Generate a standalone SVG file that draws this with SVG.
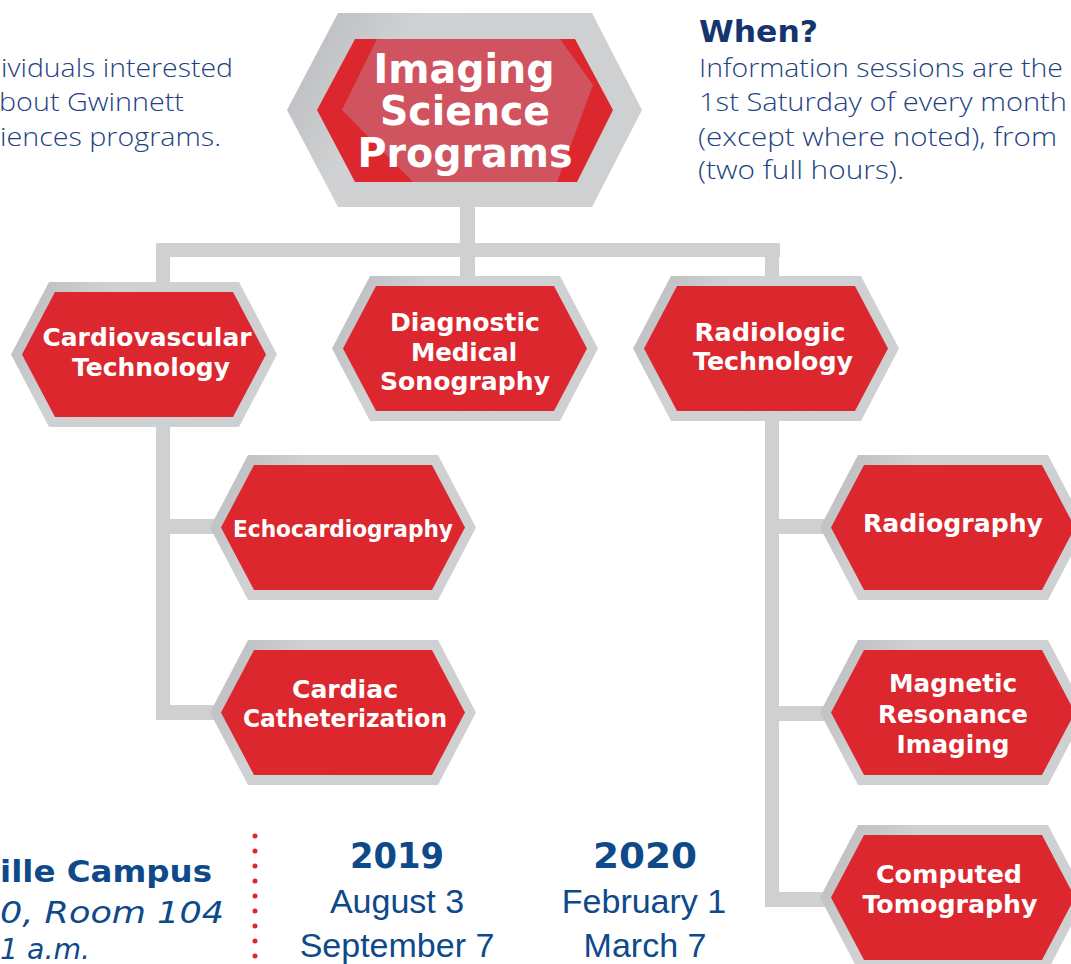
<svg xmlns="http://www.w3.org/2000/svg" width="1071" height="964" viewBox="0 0 1071 964">
<style>
.nt{font-family:"DejaVu Sans","Liberation Sans",sans-serif;font-weight:700;fill:#ffffff;text-anchor:middle}
.body{font-family:"Open Sans","Liberation Sans",sans-serif;font-weight:300;fill:#1e4380;font-size:25px}
.navy{fill:#0e4a8a}
.conn{fill:#cfd0d2}
.red{fill:#dc272e}
.date{font-family:"Liberation Sans",Arial,sans-serif;font-size:34px}
</style>
<defs>
<linearGradient id="gg" x1="0" y1="0" x2="1" y2="0.3">
<stop offset="0" stop-color="#b8b9bc"/>
<stop offset="0.35" stop-color="#d0d1d3"/>
<stop offset="1" stop-color="#cfd0d2"/>
</linearGradient>
<g id="hex">
<polygon points="38,0 228,0 266,72.5 228,145 38,145 0,72.5" fill="url(#gg)"/>
<polygon class="red" points="44,10 222,10 255,72.5 222,135 44,135 11,72.5"/>
</g>
</defs>
<rect width="1071" height="964" fill="#ffffff"/>

<g id="connectors">
<rect class="conn" x="460" y="200" width="15" height="80"/>
<rect class="conn" x="156" y="243" width="624" height="14"/>
<rect class="conn" x="156" y="243" width="14" height="477"/>
<rect class="conn" x="156" y="519" width="60" height="15"/>
<rect class="conn" x="156" y="705" width="60" height="15"/>
<rect class="conn" x="765" y="243" width="14" height="664"/>
<rect class="conn" x="765" y="519" width="60" height="15"/>
<rect class="conn" x="765" y="706" width="60" height="15"/>
<rect class="conn" x="765" y="892" width="60" height="15"/>
</g>

<g id="node-imaging">
<polygon points="338,13 592,13 642,110 592,207 338,207 287,110" fill="url(#gg)"/>
<polygon class="red" points="355,39 575,39 613,110 577,182 355,182 317,110"/>
<polygon points="377,39 560,39 593,85 557,182 413,182 342,110" fill="#d0545f"/>
<text class="nt" font-size="40" x="464" y="83" textLength="181" lengthAdjust="spacingAndGlyphs">Imaging</text>
<text class="nt" font-size="40" x="465" y="125" textLength="170" lengthAdjust="spacingAndGlyphs">Science</text>
<text class="nt" font-size="40" x="465" y="167" textLength="215" lengthAdjust="spacingAndGlyphs">Programs</text>
</g>

<g id="node-cardiovascular">
<use href="#hex" x="11" y="282"/>
<text class="nt" font-size="24" x="147" y="346" textLength="209" lengthAdjust="spacingAndGlyphs">Cardiovascular</text>
<text class="nt" font-size="24" x="151" y="376" textLength="158" lengthAdjust="spacingAndGlyphs">Technology</text>
</g>

<g id="node-sonography">
<use href="#hex" x="332" y="276"/>
<text class="nt" font-size="24" x="465" y="331" textLength="150" lengthAdjust="spacingAndGlyphs">Diagnostic</text>
<text class="nt" font-size="24" x="464" y="361" textLength="106" lengthAdjust="spacingAndGlyphs">Medical</text>
<text class="nt" font-size="24" x="465" y="390" textLength="170" lengthAdjust="spacingAndGlyphs">Sonography</text>
</g>

<g id="node-radiologic">
<use href="#hex" x="633" y="276"/>
<text class="nt" font-size="24" x="770" y="341" textLength="151" lengthAdjust="spacingAndGlyphs">Radiologic</text>
<text class="nt" font-size="24" x="773" y="370" textLength="160" lengthAdjust="spacingAndGlyphs">Technology</text>
</g>

<g id="node-echo">
<use href="#hex" x="210" y="455"/>
<text class="nt" font-size="23" x="343" y="537" textLength="220" lengthAdjust="spacingAndGlyphs">Echocardiography</text>
</g>

<g id="node-cath">
<use href="#hex" x="210" y="640"/>
<text class="nt" font-size="24" x="345" y="698" textLength="106" lengthAdjust="spacingAndGlyphs">Cardiac</text>
<text class="nt" font-size="24" x="345" y="727" textLength="204" lengthAdjust="spacingAndGlyphs">Catheterization</text>
</g>

<g id="node-radiography">
<use href="#hex" x="820" y="455"/>
<text class="nt" font-size="24" x="953" y="532" textLength="180" lengthAdjust="spacingAndGlyphs">Radiography</text>
</g>

<g id="node-mri">
<use href="#hex" x="820" y="640"/>
<text class="nt" font-size="24" x="953" y="692" textLength="128" lengthAdjust="spacingAndGlyphs">Magnetic</text>
<text class="nt" font-size="24" x="953" y="723" textLength="150" lengthAdjust="spacingAndGlyphs">Resonance</text>
<text class="nt" font-size="24" x="953" y="753" textLength="113" lengthAdjust="spacingAndGlyphs">Imaging</text>
</g>

<g id="node-ct">
<use href="#hex" x="820" y="825"/>
<text class="nt" font-size="24" x="949" y="883" textLength="146" lengthAdjust="spacingAndGlyphs">Computed</text>
<text class="nt" font-size="24" x="950" y="913" textLength="175" lengthAdjust="spacingAndGlyphs">Tomography</text>
</g>

<g id="intro-text">
<text class="body" x="1" y="77" textLength="232" lengthAdjust="spacingAndGlyphs">ividuals interested</text>
<text class="body" x="-1" y="111" textLength="185" lengthAdjust="spacingAndGlyphs">bout Gwinnett</text>
<text class="body" x="0" y="146" textLength="221" lengthAdjust="spacingAndGlyphs">iences programs.</text>
</g>

<g id="when-text">
<text x="699" y="42" font-family="DejaVu Sans, Liberation Sans, sans-serif" font-weight="700" font-size="30" fill="#15356e" textLength="119" lengthAdjust="spacingAndGlyphs">When?</text>
<text class="body" x="699" y="77" textLength="364" lengthAdjust="spacingAndGlyphs">Information sessions are the</text>
<text class="body" x="699" y="111" textLength="368" lengthAdjust="spacingAndGlyphs">1st Saturday of every month</text>
<text class="body" x="698" y="146" textLength="359" lengthAdjust="spacingAndGlyphs">(except where noted), from</text>
<text class="body" x="698" y="179" textLength="206" lengthAdjust="spacingAndGlyphs">(two full hours).</text>
</g>

<g id="where-text" font-family="DejaVu Sans, Liberation Sans, sans-serif" class="navy">
<text x="0" y="882" font-weight="700" font-size="30" textLength="212" lengthAdjust="spacingAndGlyphs">ille Campus</text>
<text x="0" y="923" font-style="italic" font-size="30" textLength="224" lengthAdjust="spacingAndGlyphs">0, Room 104</text>
<text x="0" y="959" font-style="italic" font-size="28" textLength="90" lengthAdjust="spacingAndGlyphs">1 a.m.</text>
</g>

<line id="divider" x1="255" y1="836" x2="255" y2="964" stroke="#e0262f" stroke-width="5" stroke-linecap="round" stroke-dasharray="0 15"/>

<g id="dates" class="navy" text-anchor="middle">
<text x="397" y="868" font-family="DejaVu Sans, Liberation Sans, sans-serif" font-weight="700" font-size="36" textLength="94" lengthAdjust="spacingAndGlyphs">2019</text>
<text x="645" y="868" font-family="DejaVu Sans, Liberation Sans, sans-serif" font-weight="700" font-size="36" textLength="104" lengthAdjust="spacingAndGlyphs">2020</text>
<text class="date" x="397" y="913">August 3</text>
<text class="date" x="397" y="957">September 7</text>
<text class="date" x="644" y="913">February 1</text>
<text class="date" x="645" y="957">March 7</text>
</g>
</svg>
